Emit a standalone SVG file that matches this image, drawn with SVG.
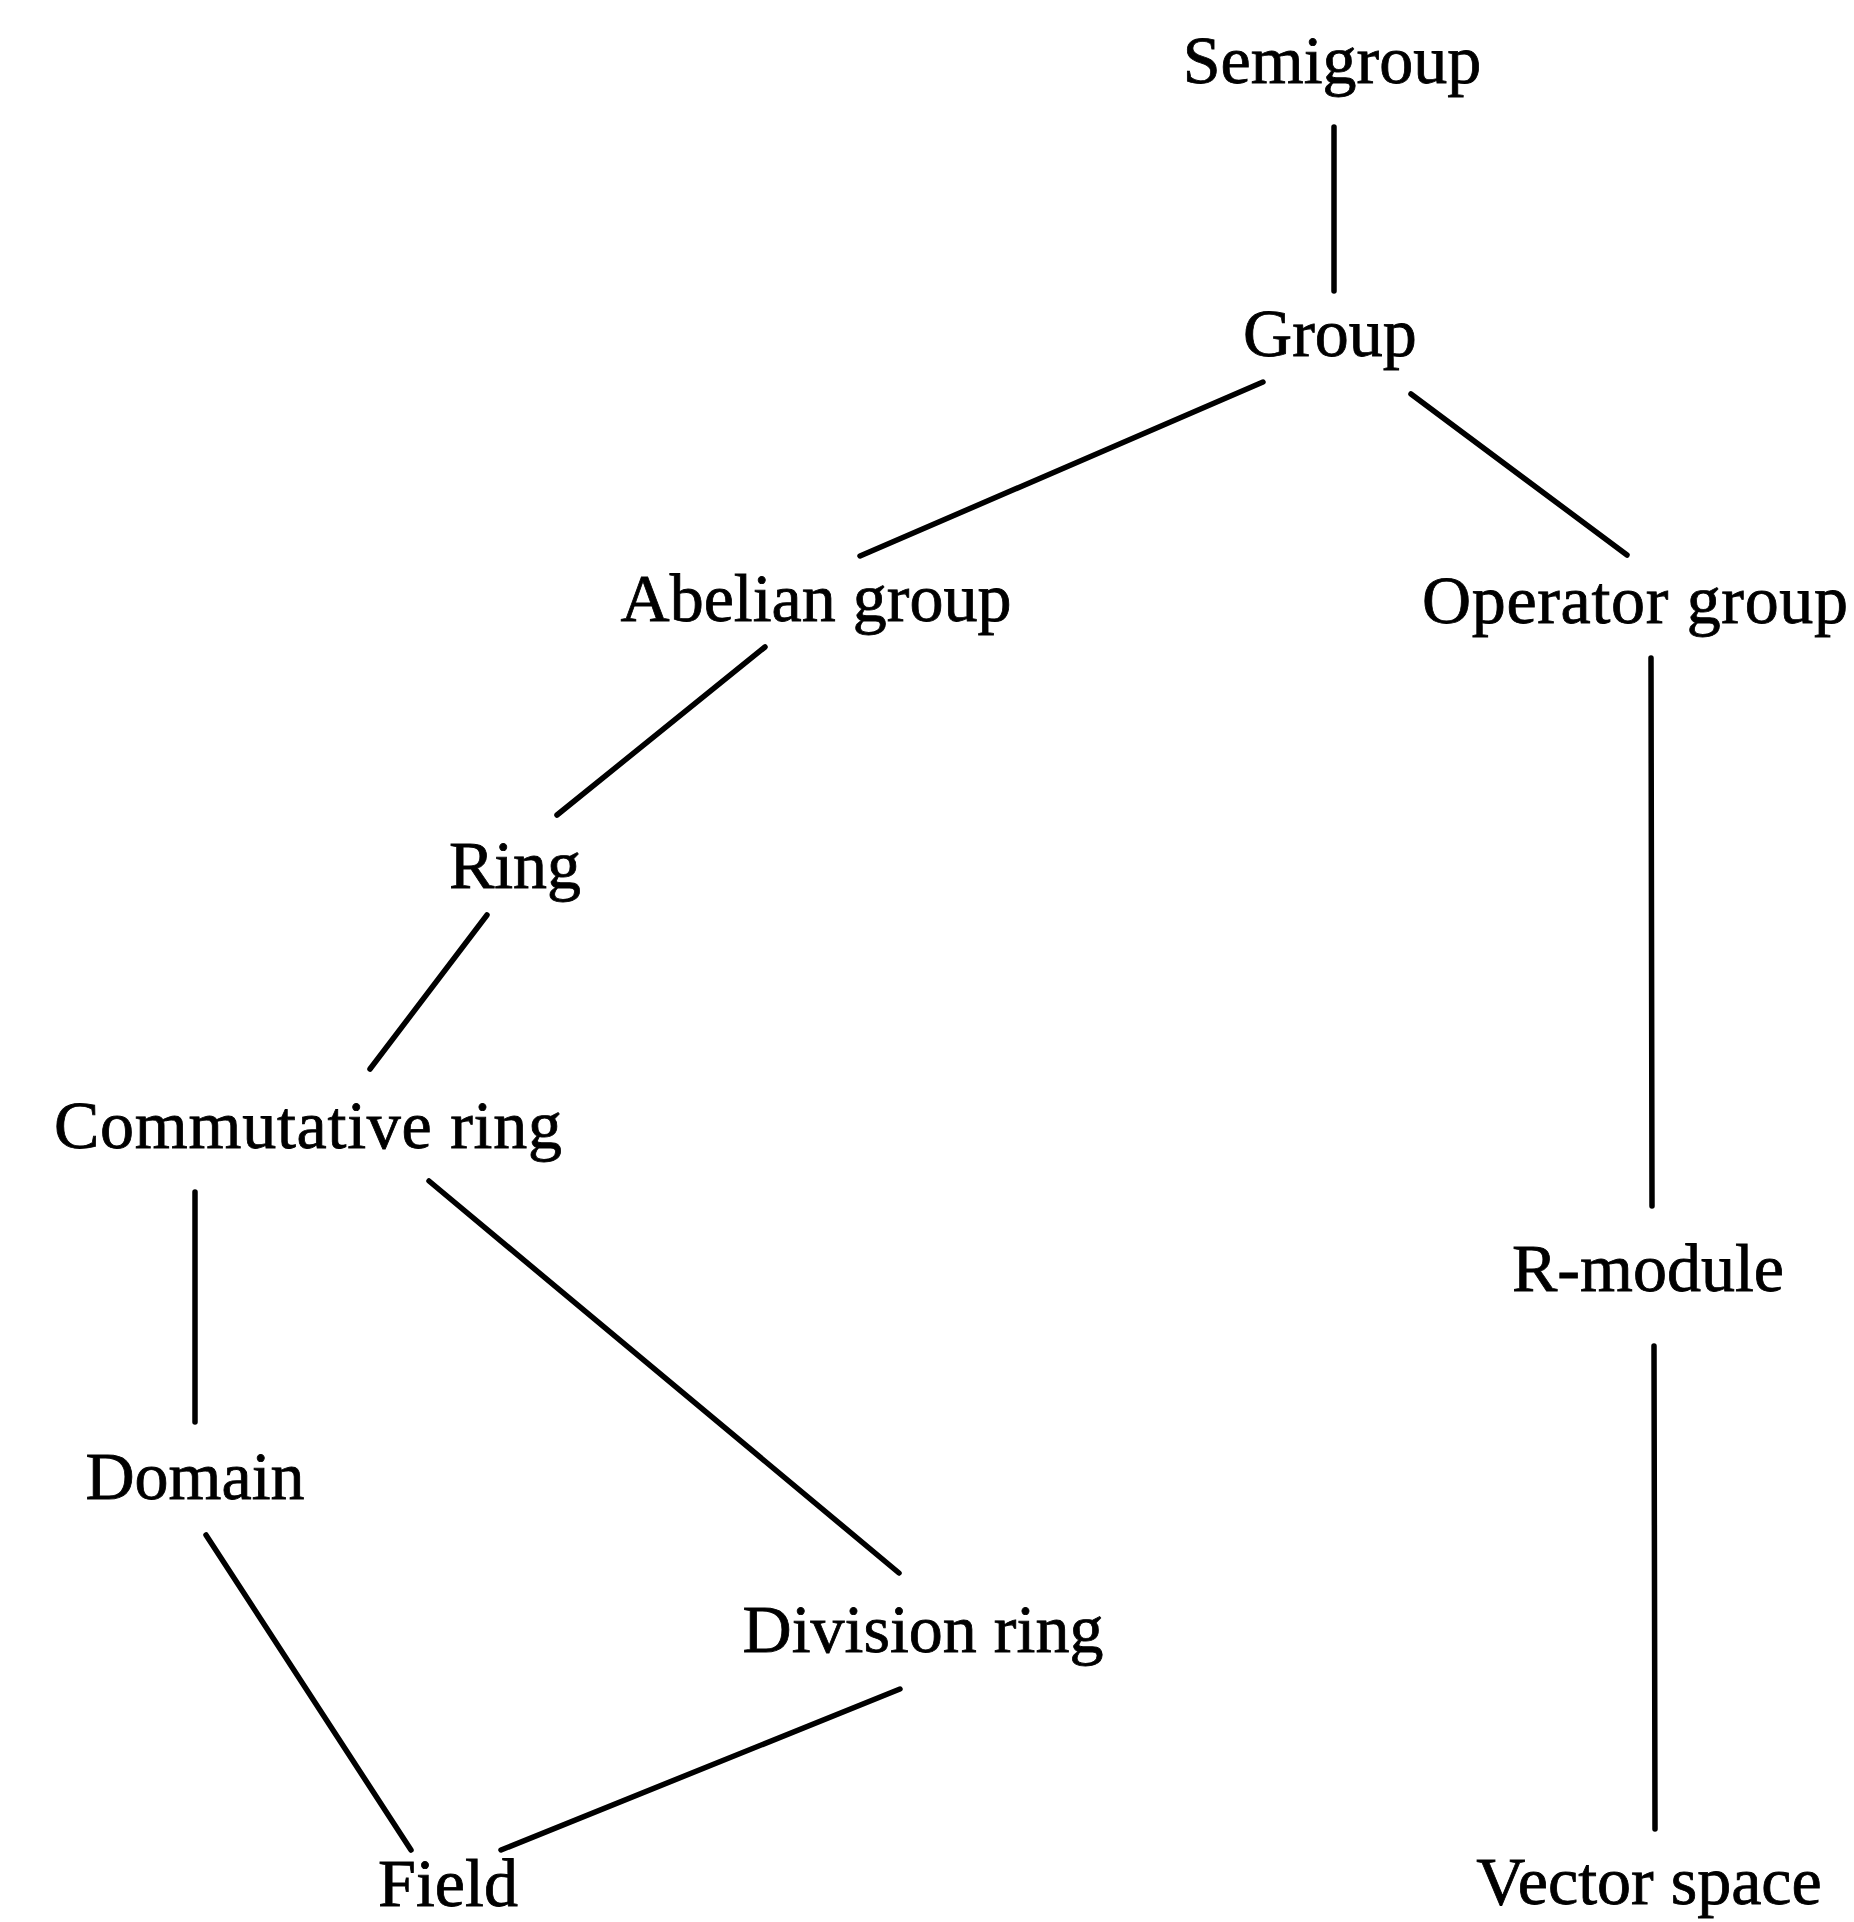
<svg xmlns="http://www.w3.org/2000/svg" width="1854" height="1922" viewBox="0 0 1854 1922">
<style>
text{font-family:"Liberation Serif","Times New Roman",serif;font-size:68px;fill:#000;stroke:#000;stroke-width:0.8;text-anchor:middle}
line{stroke:#000;stroke-width:5.5;stroke-linecap:round}
</style>
<rect width="1854" height="1922" fill="#fff"/>
<g id="connectors">
<line x1="1334" y1="127" x2="1334" y2="291"/>
<line x1="1263" y1="382" x2="860" y2="556"/>
<line x1="1411" y1="394" x2="1627" y2="555"/>
<line x1="765" y1="647" x2="557" y2="815"/>
<line x1="487" y1="915" x2="370" y2="1069"/>
<line x1="1651" y1="658" x2="1652" y2="1206"/>
<line x1="195" y1="1192" x2="195" y2="1422"/>
<line x1="429" y1="1181" x2="899" y2="1573"/>
<line x1="1654" y1="1346" x2="1655" y2="1829"/>
<line x1="206" y1="1535" x2="411" y2="1850"/>
<line x1="900" y1="1689" x2="501" y2="1850"/>
</g>
<g id="semigroup"><text x="1332" y="83">Semigroup</text></g>
<g id="group"><text x="1330" y="356">Group</text></g>
<g id="abelian-group"><text x="816" y="621">Abelian group</text></g>
<g id="operator-group"><text x="1635" y="623" textLength="426">Operator group</text></g>
<g id="ring"><text x="515" y="888">Ring</text></g>
<g id="commutative-ring"><text x="308" y="1148" textLength="508">Commutative ring</text></g>
<g id="r-module"><text x="1648" y="1291">R-module</text></g>
<g id="domain"><text x="195" y="1499">Domain</text></g>
<g id="division-ring"><text x="923" y="1652">Division ring</text></g>
<g id="field"><text x="448" y="1906">Field</text></g>
<g id="vector-space"><text x="1649" y="1904">Vector space</text></g>
</svg>
